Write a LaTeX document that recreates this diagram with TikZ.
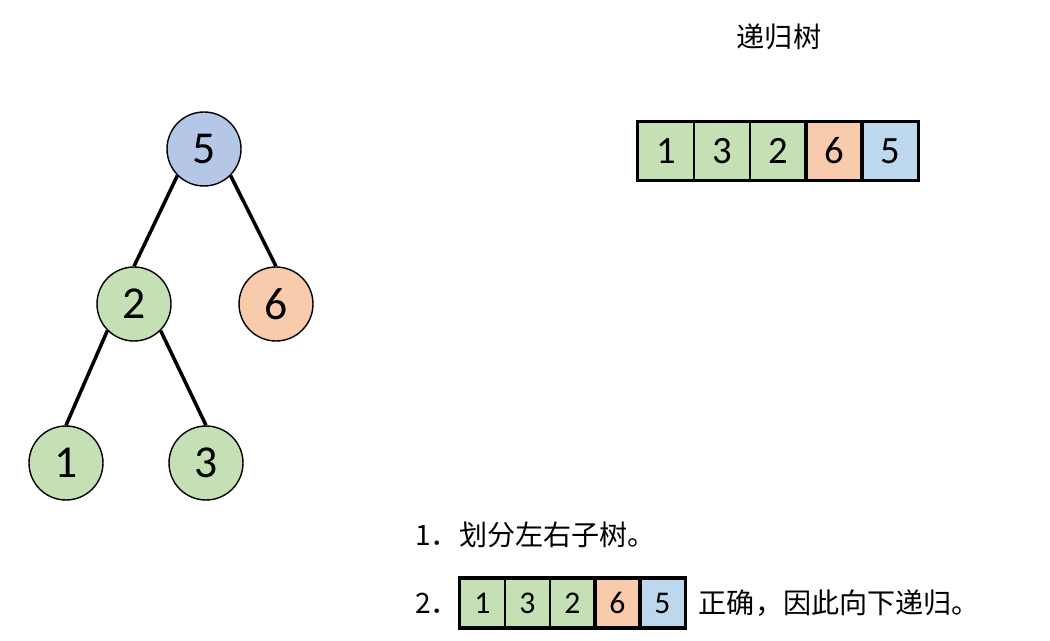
\documentclass[tikz,border=0pt]{standalone}
\usepackage{fontspec}
\setmainfont{Carlito}
\newfontfamily\cjk{Noto Sans CJK SC}
\usetikzlibrary{positioning}
\definecolor{rootblue}{HTML}{B4C7E7}
\definecolor{leafgreen}{HTML}{C5E0B4}
\definecolor{rightorange}{HTML}{F8CBAD}
\definecolor{cellblue}{HTML}{BDD7EE}

\begin{document}
\begin{tikzpicture}[x=0.02cm,y=-0.02cm,
  tnode/.style={circle,draw,line width=0.8pt,minimum size=1.48cm,inner sep=0pt,
    font=\fontsize{26}{26}\selectfont},
  bigcell/.style={draw,line width=0.6pt,minimum width=1.12cm,minimum height=1.16cm,
    inner sep=0pt,font=\fontsize{22}{22}\selectfont},
  smallcell/.style={draw,line width=0.6pt,minimum width=0.9cm,minimum height=0.98cm,
    inner sep=0pt,font=\fontsize{18}{18}\selectfont},
  cjktext/.style={inner sep=0pt,font=\cjk\fontsize{16}{16}\selectfont}]
 \useasboundingbox (0,0) rectangle (1050,641);
 % the tree
 \node[tnode,fill=rootblue] (n5) at (204,149) {5};
 \node[tnode,fill=leafgreen] (n2) at (134,304) {2};
 \node[tnode,fill=rightorange] (n6) at (276,304) {6};
 \node[tnode,fill=leafgreen] (n1) at (66,463) {1};
 \node[tnode,fill=leafgreen] (n3) at (206,463) {3};
 \foreach \a/\b in {n5.south west/n2.north,n5.south east/n6.north,
                    n2.south west/n1.north,n2.south east/n3.north}
   {\draw[line width=2pt] (\a)--(\b);}
 % postorder array
 \node[cjktext] (title) at (779,37) {递归树};
 \foreach \v/\c [count=\i] in {1/leafgreen,3/leafgreen,2/leafgreen,6/rightorange,5/cellblue}
   {\node[bigcell,fill=\c] (a\i) at ({666+56*(\i-1)},151) {\v};}
 \draw[line width=1.8pt] (a1.north west) rectangle (a3.south east);
 \draw[line width=1.8pt] (a4.north west) rectangle (a4.south east);
 \draw[line width=1.8pt] (a5.north west) rectangle (a5.south east);
 % steps
 \node[cjktext,anchor=west] (s1) at (415,535) {1．划分左右子树。};
 \node[cjktext,anchor=west] (s2) at (415,603) {2．};
 \foreach \v/\c [count=\i] in {1/leafgreen,3/leafgreen,2/leafgreen,6/rightorange,5/cellblue}
   {\node[smallcell,fill=\c] (b\i) at ({482.5+45*(\i-1)},603) {\v};}
 \draw[line width=1.8pt] (b1.north west) rectangle (b3.south east);
 \draw[line width=1.8pt] (b4.north west) rectangle (b4.south east);
 \draw[line width=1.8pt] (b5.north west) rectangle (b5.south east);
 \node[cjktext,right=0.26cm of b5] (s2b) {正确，因此向下递归。};
\end{tikzpicture}
\end{document}
